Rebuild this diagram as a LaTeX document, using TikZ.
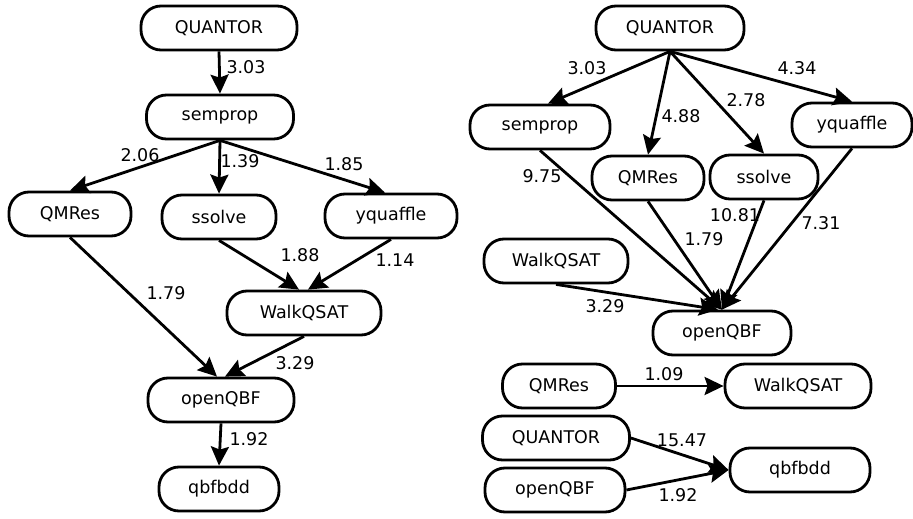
\documentclass[tikz,border=0pt]{standalone}
\usepackage{fontspec}
\setmainfont{DejaVu Sans}
\usetikzlibrary{arrows.meta}

\begin{document}
\begin{tikzpicture}
		[
			x = 1pt, y = -1pt,
			font = \fontsize{17.5}{21}\selectfont,
			solver/.style = {rectangle, rounded corners = 20pt, draw = black, line width = 2.8pt, fill = white, minimum height = 44pt, inner sep = 0pt},
			speedup/.style = {line width = 2.8pt, -{Stealth[length = 19pt, width = 18pt, inset = 3pt]}},
			ratio/.style = {inner sep = 0pt},
		]
			\useasboundingbox (0,0) rectangle (913,519);
			%
			\node (quantorL) [solver, minimum width = 156pt] at (219,28) {QUANTOR};
			\node (sempropL) [solver, minimum width = 147pt] at (220,117) {semprop};
			\node (qmresL) [solver, minimum width = 122pt] at (70,214) {QMRes};
			\node (ssolveL) [solver, minimum width = 114pt] at (219,217) {ssolve};
			\node (yquaffleL) [solver, minimum width = 132pt] at (391,216) {yquaffle};
			\node (walkqsatL) [solver, minimum width = 154pt] at (304,313) {WalkQSAT};
			\node (openqbfL) [solver, minimum width = 146pt] at (221,400) {openQBF};
			\node (qbfbddL) [solver, minimum width = 120pt] at (219,489) {qbfbdd};
			%
			\draw [speedup] (quantorL.south) -- (sempropL.north);
			\draw [speedup] (sempropL.south) -- (qmresL.north);
			\draw [speedup] (sempropL.south) -- (ssolveL.north);
			\draw [speedup] (sempropL.south) -- ([xshift = -6pt] yquaffleL.north);
			\draw [speedup] (ssolveL.south) -- ([xshift = -5pt] walkqsatL.north);
			\draw [speedup] (yquaffleL.south) -- ([xshift = 4pt] walkqsatL.north);
			\draw [speedup] (qmresL.south) -- ([xshift = -4pt] openqbfL.north);
			\draw [speedup] (walkqsatL.south) -- ([xshift = 4pt] openqbfL.north);
			\draw [speedup] (openqbfL.south) -- (qbfbddL.north);
			%
			\node (labQSL) [ratio] at (246,67) {3.03};
			\node (labSQL) [ratio] at (140,155) {2.06};
			\node (labSSL) [ratio] at (240,161) {1.39};
			\node (labSYL) [ratio] at (344,164) {1.85};
			\node (labSWL) [ratio] at (300,255) {1.88};
			\node (labYWL) [ratio] at (395,260) {1.14};
			\node (labQOL) [ratio] at (166,293) {1.79};
			\node (labWOL) [ratio] at (295,363) {3.29};
			\node (labOQL) [ratio] at (249,439) {1.92};
			%
			\node (quantorR) [solver, minimum width = 148pt] at (670,28) {QUANTOR};
			\node (sempropR) [solver, minimum width = 140pt] at (540,127) {semprop};
			\node (qmresR) [solver, minimum width = 112pt] at (648,178) {QMRes};
			\node (ssolveR) [solver, minimum width = 108pt] at (764,177) {ssolve};
			\node (yquaffleR) [solver, minimum width = 120pt] at (852,125) {yquaffle};
			\node (walkqsatR) [solver, minimum width = 144pt] at (556,261) {WalkQSAT};
			\node (openqbfR) [solver, minimum width = 138pt] at (722,333) {openQBF};
			%
			\draw [speedup] (quantorR.south) -- ([xshift = 8pt] sempropR.north);
			\draw [speedup] (quantorR.south) -- (qmresR.north);
			\draw [speedup] (quantorR.south) -- (ssolveR.north);
			\draw [speedup] (quantorR.south) -- (yquaffleR.north);
			\draw [speedup] (sempropR.south) -- (openqbfR.north);
			\draw [speedup] (qmresR.south) -- (openqbfR.north);
			\draw [speedup] (ssolveR.south) -- (openqbfR.north);
			\draw [speedup] (yquaffleR.south) -- (openqbfR.north);
			\draw [speedup] (walkqsatR.south) -- ([xshift = -4pt] openqbfR.north);
			%
			\node (labQSR) [ratio] at (587,68) {3.03};
			\node (labQQR) [ratio] at (681,116) {4.88};
			\node (labQVR) [ratio] at (746,100) {2.78};
			\node (labQYR) [ratio] at (797,68) {4.34};
			\node (labSOR) [ratio] at (542,176) {9.75};
			\node (labMOR) [ratio] at (704,239) {1.79};
			\node (labVOR) [ratio] at (735,215) {10.81};
			\node (labYOR) [ratio] at (821,223) {7.31};
			\node (labWOR) [ratio] at (605,306) {3.29};
			%
			\node (qmresP) [solver, minimum width = 113pt] at (559,386) {QMRes};
			\node (walkqsatP) [solver, minimum width = 146pt] at (798,386) {WalkQSAT};
			\draw [speedup] (qmresP.east) -- (walkqsatP.west);
			\node (labMWP) [ratio] at (664,374) {1.09};
			%
			\node (quantorQ) [solver, minimum width = 147pt] at (556,438) {QUANTOR};
			\node (openqbfQ) [solver, minimum width = 140pt] at (555,490) {openQBF};
			\node (qbfbddQ) [solver, minimum width = 140pt] at (800,470) {qbfbdd};
			\draw [speedup] (quantorQ.east) -- (qbfbddQ.west);
			\draw [speedup] (openqbfQ.east) -- (qbfbddQ.west);
			\node (labQBQ) [ratio] at (682,440) {15.47};
			\node (labOBQ) [ratio] at (678,495) {1.92};
			%
		\end{tikzpicture}
\end{document}
